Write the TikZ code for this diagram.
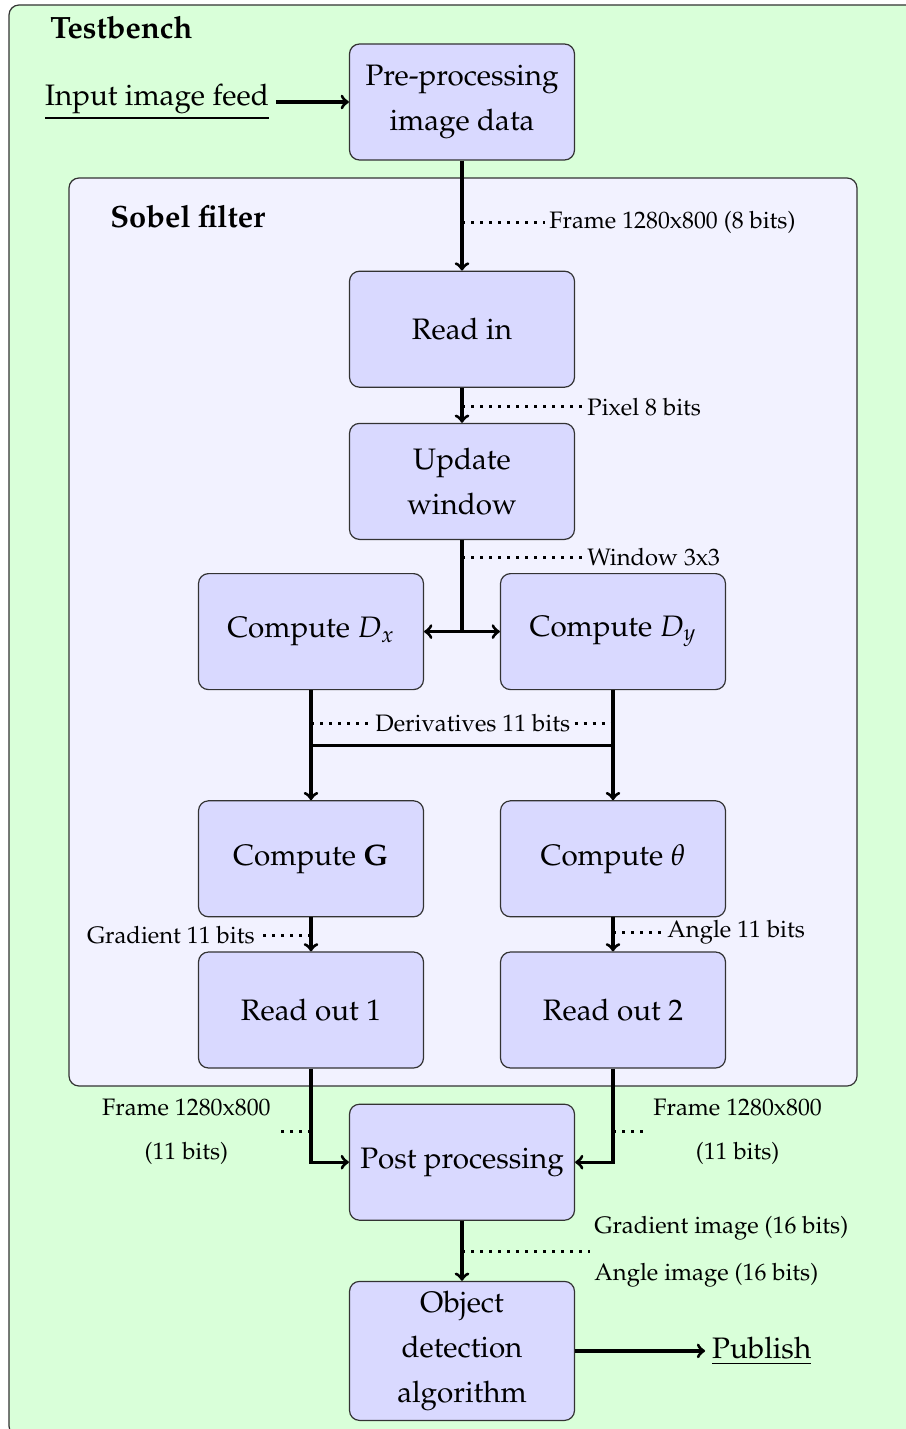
\documentclass[tikz,border=0pt]{standalone}
\usepackage[T1]{fontenc}
\usepackage{mathpazo}
\usepackage{tikz}
\usetikzlibrary{arrows,positioning}

\tikzset{
  blk/.style={draw=black!80, line width=0.6pt, fill=blue!15, rounded corners=5pt,
    minimum width=112.5pt, minimum height=58pt, align=center,
    font=\fontsize{14.8}{22.5}\selectfont},
  lbl/.style={inner sep=2pt, font=\fontsize{11.9}{22}\selectfont},
  ttl/.style={inner sep=0pt, anchor=west, font=\fontsize{15.4}{18}\selectfont\bfseries},
  wire/.style={line width=1.6pt},
  dotline/.style={line width=1.5pt, dash pattern=on 1.5pt off 3pt},
}

\begin{document}
\begin{tikzpicture}[node distance=17.5pt, >=to]
\useasboundingbox (0,0) rectangle (452.5pt,-714.5pt);
\draw[draw=black!80, line width=0.6pt, fill=green!15, rounded corners=5pt] (4.5pt,-2.5pt) rectangle (470pt,-718pt);
\draw[draw=black!80, line width=0.6pt, fill=blue!5, rounded corners=5pt] (34.5pt,-89pt) rectangle (428.5pt,-543pt);
\node[ttl] (TB) at (25pt,-14pt) {Testbench};
\node[ttl] (SF) at (55pt,-108.5pt) {Sobel filter};

\node[blk] (P) at (231pt,-51pt) {Pre-processing\\image data};
\node[blk] (R) [below=55pt of P] {Read in};
\node[blk] (U) [below=of R] {Update\\window};
\node[blk] (DX) [below=16.5pt of U, xshift=-75.5pt] {Compute $D_x$};
\node[blk] (DY) [below=16.5pt of U, xshift=75.5pt] {Compute $D_y$};
\node[blk] (G) [below=55pt of DX] {Compute $\mathbf{G}$};
\node[blk] (T) [below=55pt of DY] {Compute $\theta$};
\node[blk] (R1) [below=17pt of G] {Read out 1};
\node[blk] (R2) [below=17pt of T] {Read out 2};
\node[blk] (PP) [below=of R1, xshift=75.5pt] {Post processing};
\node[blk, minimum height=69.5pt] (O) [below=30pt of PP] {Object\\detection\\algorithm};

\node (IN) [left=36.5pt of P, font=\fontsize{14.8}{22.5}\selectfont] {\underline{Input image feed}};
\node (PUB) [right=65pt of O, font=\fontsize{14.8}{22.5}\selectfont] {\underline{Publish}};

\draw[->, wire] (IN) -- (P);
\draw[->, wire] (P) -- (R);
\draw[->, wire] (R) -- (U);
\draw[->, wire] (U) |- (DX);
\draw[->, wire] (U) |- (DY);
\coordinate[below=27.5pt of DX] (m1);
\coordinate[below=27.5pt of DY] (m2);
\draw[wire] (DX) -- (m1) -- (m2) -- (DY);
\draw[->, wire] (m1) -- (G);
\draw[->, wire] (m2) -- (T);
\draw[->, wire] (G) -- (R1);
\draw[->, wire] (T) -- (R2);
\draw[->, wire] (R1) |- (PP);
\draw[->, wire] (R2) |- (PP);
\draw[->, wire] (PP) -- (O);
\draw[->, wire] (O) -- (PUB);

\coordinate[below=31pt of P] (c1);
\node[lbl, right=41.5pt of c1] (L1) {Frame 1280x800 (8 bits)};
\coordinate[below=9.5pt of R] (c2);
\node[lbl, right=60.5pt of c2] (L2) {Pixel 8 bits};
\coordinate[below=8.5pt of U] (c3);
\node[lbl, right=60.5pt of c3] (L3) {Window 3x3};
\coordinate[above=11pt of m1] (d1);
\coordinate[above=11pt of m2] (d2);
\node[lbl, right=30pt of d1] (LD) {Derivatives 11 bits};
\coordinate[below=9pt of G] (g1);
\node[lbl, left=26pt of g1] (LG) {Gradient 11 bits};
\coordinate[below=7.5pt of T] (a1);
\node[lbl, right=25pt of a1] (LA) {Angle 11 bits};
\coordinate[below=31.5pt of R1] (f1);
\node[lbl, left=18pt of f1, align=center] (LF1) {Frame 1280x800\\(11 bits)};
\coordinate[below=31.5pt of R2] (f2);
\node[lbl, right=18pt of f2, align=center] (LF2) {Frame 1280x800\\(11 bits)};
\coordinate[below=15.5pt of PP] (o1);
\node[lbl, right=64pt of o1, align=left] (LO) {Gradient image (16 bits)\\[1.5pt]Angle image (16 bits)};

\draw[dotline] (c1) -- (L1);
\draw[dotline] (c2) -- (L2);
\draw[dotline] (c3) -- (L3);
\draw[dotline] (d1) -- (LD);
\draw[dotline] (LD) -- (d2);
\draw[dotline] (g1) -- (LG);
\draw[dotline] (a1) -- (LA);
\draw[dotline] (f1) -- (LF1);
\draw[dotline] (f2) -- (LF2);
\draw[dotline] (o1) -- (LO);
\end{tikzpicture}
\end{document}
